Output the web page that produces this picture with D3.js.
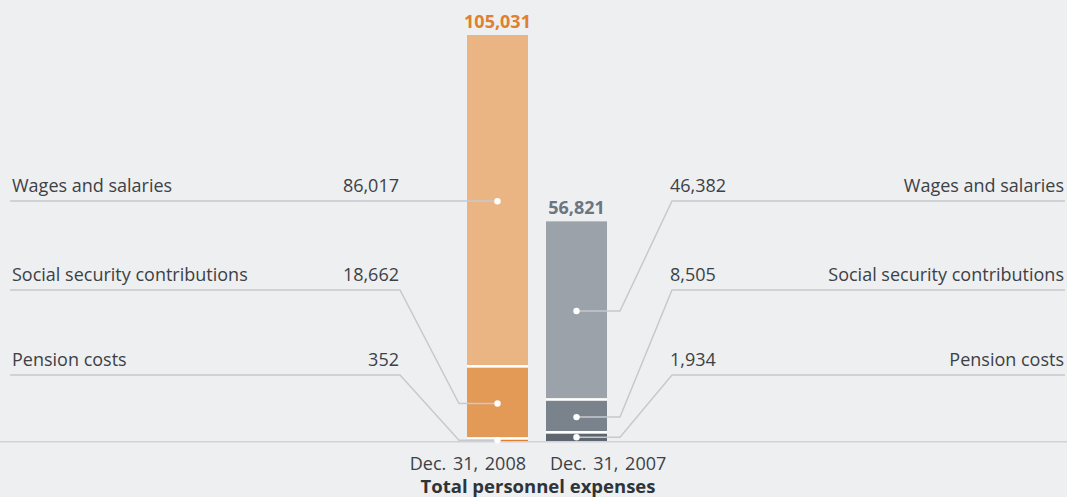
<!DOCTYPE html>
<html>
<head>
<meta charset="utf-8">
<script src="https://cdn.jsdelivr.net/npm/d3@7/dist/d3.min.js"></script>
<style>
  html, body { margin: 0; padding: 0; background: #eeeff1; }
  svg { display: block; }
  text { font-family: "Open Sans", "Noto Sans", sans-serif; }
</style>
</head>
<body>
<svg id="chart" width="1067" height="497"></svg>
<script>
// Personnel expenses (in thousands), stacked bottom to top
const periods = ["Dec. 31, 2008", "Dec. 31, 2007"];
const components = ["Pension costs", "Social security contributions", "Wages and salaries"];
const values2008 = [352, 18662, 86017];
const values2007 = [1934, 8505, 46382];
const totals = [105031, 56821];
const axisTitle = "Total personnel expenses";

const W = 1067, H = 497;
const svg = d3.select("#chart");
svg.append("rect").attr("width", W).attr("height", H).attr("fill", "#eeeff1");

const baseY = 441, topY = 35;
const y = d3.scaleLinear().domain([0, d3.max(totals)]).range([baseY, topY]);
const x = d3.scaleBand().domain(periods).range([467, 607]).paddingInner(18 / 79).paddingOuter(0);

const palettes = [
  ["#e27f2e", "#e39a56", "#ebb483"],
  ["#5e6770", "#7a828c", "#9ba2a9"]
];
const totalColors = ["#e07f2f", "#6c7580"];
const textColor = "#3c4146";
const leaderColor = "#c6c9ce";
const fontSize = 18;

const series = [values2008, values2007];

// stacked segments
const stacks = series.map((vals, i) => {
  let acc = 0;
  return vals.map((v, j) => {
    const seg = { period: periods[i], comp: components[j], v, y0: acc, y1: acc + v, color: palettes[i][j] };
    acc += v;
    return seg;
  });
});

// axis baseline
svg.append("line")
  .attr("x1", 0).attr("x2", W)
  .attr("y1", baseY + 0.75).attr("y2", baseY + 0.75)
  .attr("stroke", "#cfd2d6").attr("stroke-width", 1.5);

const barG = svg.append("g");
stacks.forEach((segs, i) => {
  const bx = x(periods[i]), bw = x.bandwidth();
  barG.selectAll(null).data(segs).enter().append("rect")
    .attr("x", bx).attr("width", bw)
    .attr("y", d => y(d.y1))
    .attr("height", d => y(d.y0) - y(d.y1))
    .attr("fill", d => d.color);
  // white separators between segments
  barG.selectAll(null).data(segs.slice(0, -1)).enter().append("rect")
    .attr("x", bx).attr("width", bw)
    .attr("y", d => y(d.y1) - 2.5)
    .attr("height", 2.5)
    .attr("fill", "#ffffff");
  // total label
  svg.append("text")
    .attr("x", bx + bw / 2)
    .attr("y", y(totals[i]) - 7)
    .attr("text-anchor", "middle")
    .attr("font-size", fontSize).attr("font-weight", 700)
    .attr("fill", totalColors[i])
    .text(d3.format(",")(totals[i]));
});

// leader lines and labels
const rowY = { "Wages and salaries": 201, "Social security contributions": 290, "Pension costs": 375 };
const fmt = d3.format(",");
const lineG = svg.append("g").attr("fill", "none").attr("stroke", leaderColor).attr("stroke-width", 1.5);
const dotG = svg.append("g");

stacks.forEach((segs, i) => {
  const left = i === 0;
  const cx = x(periods[i]) + x.bandwidth() / 2;
  segs.forEach(d => {
    const ly = rowY[d.comp];
    const dy = (y(d.y0) + y(d.y1)) / 2;
    const edgeX = left ? 10 : 1065;
    const elbowX = left ? 400 : 672;
    const kneeX = left ? 459 : 620;
    const pts = Math.abs(dy - ly) < 1
      ? [[edgeX, ly], [cx, ly]]
      : [[edgeX, ly], [elbowX, ly], [kneeX, dy], [cx, dy]];
    lineG.append("path").attr("d", d3.line()(pts));
    dotG.append("circle").attr("cx", cx).attr("cy", dy).attr("r", 3.2).attr("fill", "#ffffff");

    svg.append("text")
      .attr("x", left ? 12 : 1064)
      .attr("y", ly - 9)
      .attr("text-anchor", left ? "start" : "end")
      .attr("font-size", fontSize).attr("fill", textColor)
      .text(d.comp);
    svg.append("text")
      .attr("x", left ? 399 : 670)
      .attr("y", ly - 9)
      .attr("text-anchor", left ? "end" : "start")
      .attr("font-size", fontSize).attr("fill", textColor)
      .text(fmt(d.v));
  });
});

// period labels
svg.append("text")
  .attr("x", x(periods[0]) + x.bandwidth() - 2).attr("y", 470)
  .attr("text-anchor", "end").attr("font-size", fontSize).attr("fill", textColor)
  .attr("word-spacing", 2)
  .text(periods[0]);
svg.append("text")
  .attr("x", x(periods[1]) + 4).attr("y", 470)
  .attr("text-anchor", "start").attr("font-size", fontSize).attr("fill", textColor)
  .attr("word-spacing", 2)
  .text(periods[1]);

svg.append("text")
  .attr("x", 538).attr("y", 493)
  .attr("text-anchor", "middle").attr("font-size", 18.5).attr("font-weight", 700)
  .attr("fill", "#2f3439")
  .text(axisTitle);
</script>
</body>
</html>
